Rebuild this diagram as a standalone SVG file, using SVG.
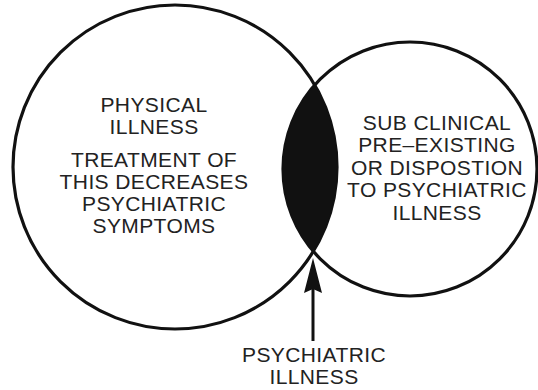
<svg xmlns="http://www.w3.org/2000/svg" width="538" height="390" viewBox="0 0 538 390">
  <style>
    .ring { fill: none; stroke: #111; stroke-width: 3.2; }
    .lbl { font-family: "Liberation Sans", Arial, Helvetica, sans-serif; font-size: 21px; letter-spacing: 0.4px; fill: #222; text-anchor: middle; }
  </style>
  <rect width="538" height="390" fill="#fff"/>

  <g id="physical-illness">
    <circle class="ring" cx="175" cy="167" r="162"/>
    <text class="lbl" x="154" y="112">PHYSICAL</text>
    <text class="lbl" x="154" y="134">ILLNESS</text>
    <text class="lbl" x="154" y="167">TREATMENT OF</text>
    <text class="lbl" x="154" y="189">THIS DECREASES</text>
    <text class="lbl" x="154" y="211">PSYCHIATRIC</text>
    <text class="lbl" x="154" y="233">SYMPTOMS</text>
  </g>

  <g id="sub-clinical">
    <circle class="ring" cx="410" cy="169" r="127"/>
    <text class="lbl" x="437" y="130">SUB CLINICAL</text>
    <text class="lbl" x="437" y="152">PRE–EXISTING</text>
    <text class="lbl" x="437" y="175">OR DISPOSTION</text>
    <text class="lbl" x="437" y="197">TO PSYCHIATRIC</text>
    <text class="lbl" x="437" y="220">ILLNESS</text>
  </g>

  <g id="overlap">
    <!-- lens where the two circles intersect -->
    <path d="M314.7 85 A162 162 0 0 1 313.3 251.4 A127 127 0 0 1 314.7 85 Z" fill="#111"/>
  </g>

  <g id="connectors">
    <line x1="313" y1="341" x2="313" y2="285" stroke="#111" stroke-width="3"/>
    <path d="M313 258 L322 293 L313 289 L304 293 Z" fill="#111"/>
  </g>

  <g id="psychiatric-illness">
    <text class="lbl" x="314" y="362">PSYCHIATRIC</text>
    <text class="lbl" x="314" y="384">ILLNESS</text>
  </g>
</svg>
